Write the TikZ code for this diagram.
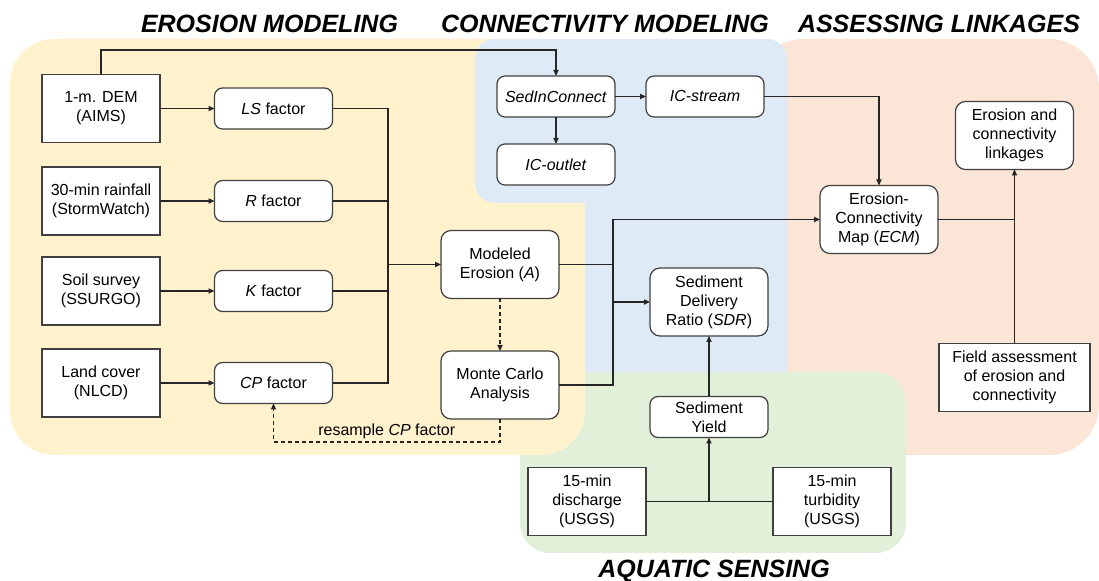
\documentclass[tikz,border=0pt]{standalone}
\usepackage{fontspec}
\setmainfont{Liberation Sans}
\usetikzlibrary{arrows.meta, positioning, calc}
\definecolor{erosionbg}{RGB}{255,242,204}
\definecolor{connbg}{RGB}{222,235,247}
\definecolor{linkbg}{RGB}{251,229,214}
\definecolor{aquabg}{RGB}{226,240,217}
\definecolor{edgegray}{RGB}{64,64,64}

\begin{document}
\begin{tikzpicture}[
  x=0.5pt, y=-0.5pt,
  font=\fontsize{8}{9.5}\selectfont,
  databox/.style={draw=edgegray, fill=white, line width=0.6pt, align=center, inner sep=0pt, outer sep=0pt, minimum width=59pt, minimum height=34pt},
  facbox/.style={databox, rounded corners=4pt, minimum height=20.5pt},
  procbox/.style={databox, rounded corners=5pt},
  heading/.style={font=\fontsize{12.5}{14}\selectfont\bfseries\itshape},
  link/.style={line width=0.7pt, draw=black!85},
  arr/.style={link, -{Triangle[length=3pt,width=2.6pt]}},
  dasharr/.style={arr, dash pattern=on 2pt off 1.5pt}
]
  \useasboundingbox (0,0) rectangle (1099,581);

  % panels
  \fill[linkbg, rounded corners=25pt] (753,39) rectangle (1099,455);
  \fill[aquabg, rounded corners=15pt] (520,372) rectangle (906,553);
  \fill[erosionbg, rounded corners=22pt] (10,39) rectangle (585,455);
  \fill[connbg] (585,372) -- (585,203) [rounded corners=10pt] -- (475,203) -- (475,39) -- (787,39) [sharp corners] -- (787,372) -- cycle;

  \node[heading] (hero) at (269.5,24) {EROSION MODELING};
  \node[heading] (hcon) at (605,24) {CONNECTIVITY MODELING};
  \node[heading] (hlnk) at (939,24) {ASSESSING LINKAGES};
  \node[heading] (haqu) at (714,571) {AQUATIC SENSING};

  % erosion modeling
  \node[databox] (dem) at (101,108.5) {1-m. DEM\\(AIMS)};
  \node[databox] (rain) at (101,201) {30-min rainfall\\(StormWatch)};
  \node[databox] (soil) at (101,291) {Soil survey\\(SSURGO)};
  \node[databox] (land) at (101,383) {Land cover\\(NLCD)};
  \node[facbox] (ls) at (273.5,108.5) {\textit{LS} factor};
  \node[facbox] (rf) at (273.5,201) {\textit{R} factor};
  \node[facbox] (kf) at (273.5,291) {\textit{K} factor};
  \node[facbox] (cpf) at (273.5,383) {\textit{CP} factor};
  \node[procbox] (erosion) at (500,264.5) {Modeled\\Erosion (\textit{A})};
  \node[procbox] (monte) at (500,385) {Monte Carlo\\Analysis};

  % connectivity modeling
  \node[facbox] (sedin) at (556,96.5) {\textit{SedInConnect}};
  \node[facbox] (icout) at (556,164.5) {\textit{IC-outlet}};
  \node[facbox] (icstream) at (705,96.5) {\textit{IC-stream}};
  \node[procbox] (sdr) at (709,302) {Sediment\\Delivery\\Ratio (\textit{SDR})};

  % assessing linkages
  \node[procbox] (ecm) at (879,219.5) {Erosion-\\Connectivity\\Map (\textit{ECM})};
  \node[procbox] (linkages) at (1014.5,135.5) {Erosion and\\connectivity\\linkages};
  \node[databox, minimum width=75.5pt] (field) at (1014.5,377.5) {Field assessment\\of erosion and\\connectivity};

  % aquatic sensing
  \node[facbox] (sedyield) at (709,417) {Sediment\\Yield};
  \node[databox] (discharge) at (587,501.5) {15-min\\discharge\\(USGS)};
  \node[databox] (turbidity) at (832,501.5) {15-min\\turbidity\\(USGS)};

  % connectors
  \coordinate (topline) at (0,50);
  \draw[arr] (dem.north) -- (dem.north |- topline) -| (sedin.north);
  \foreach \s/\t in {dem/ls, rain/rf, soil/kf, land/cpf}
    \draw[arr] (\s) -- (\t);

  \coordinate (ecol) at (388,264.5);
  \draw[link] (ls.east) -| (ecol);
  \draw[link] (cpf.east) -| (ecol);
  \draw[link] (rf.east) -- (rf.east -| ecol);
  \draw[link] (kf.east) -- (kf.east -| ecol);
  \draw[arr] (ecol) -- (erosion.west);

  \draw[arr] (sedin) -- (icstream);
  \draw[arr] (sedin) -- (icout);
  \draw[arr] (icstream.east) -| (ecm.north);

  \coordinate (mbus) at (613,0);
  \draw[arr] (monte.east) -| (mbus |- ecm.west) -- (ecm.west);
  \draw[link] (erosion.east) -- (erosion.east -| mbus);
  \draw[arr] (mbus |- sdr.west) -- (sdr.west);

  \draw[arr] (sedyield) -- (sdr);
  \draw[link] (discharge) -- (turbidity);
  \draw[arr] (sedyield.south |- discharge.east) -- (sedyield.south);

  \draw[arr] (field) -- (linkages);
  \draw[link] (ecm.east) -- (ecm.east -| linkages.south);

  \draw[dasharr] (erosion) -- (monte);
  \coordinate (loopy) at (0,442);
  \draw[dasharr] (monte.south) -- (monte.south |- loopy) -| node[pos=0.25, above, inner sep=1pt] {resample \textit{CP} factor} (cpf.south);
\end{tikzpicture}
\end{document}
